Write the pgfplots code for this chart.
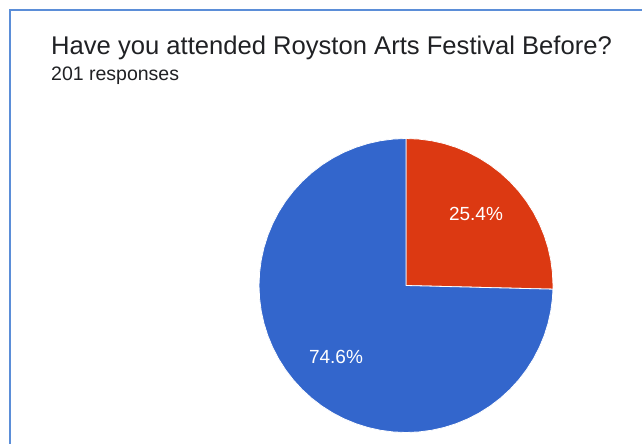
\documentclass[border=0pt]{standalone}
\usepackage{pgfplots}
\pgfplotsset{compat=1.18}
\usepackage{fontspec}
\setmainfont{Liberation Sans}
\definecolor{gblue}{HTML}{3366CC}
\definecolor{gred}{HTML}{DC3912}
\definecolor{frame}{HTML}{5B8ED8}
\definecolor{txt}{HTML}{202124}
\begin{document}
\begin{tikzpicture}
\path[use as bounding box] (0bp,0bp) rectangle (642bp,-444bp);
\fill[white] (0bp,0bp) rectangle (642bp,-444bp);
\draw[frame, line width=2bp] (10bp,-450bp) -- (10bp,-10bp) -- (650bp,-10bp);
\begin{axis}[at={(406bp,-285.5bp)}, anchor=center, scale only axis,
  width=294bp, height=294bp, xmin=-1, xmax=1, ymin=-1, ymax=1,
  hide axis, data cs=polar, clip=false]
% red slice: 25.4% -> 91.44 degrees, from 90 clockwise
\addplot[fill=gred, draw=white, line width=0.8bp] coordinates {
(0,0) (90,1) (85,1) (80,1) (75,1) (70,1) (65,1) (60,1) (55,1) (50,1) (45,1)
(40,1) (35,1) (30,1) (25,1) (20,1) (15,1) (10,1) (5,1) (0,1) (-1.44,1) (0,0)};
% blue slice: 74.6%
\addplot[fill=gblue, draw=white, line width=0.8bp] coordinates {
(0,0) (-1.44,1) (-5,1) (-10,1) (-15,1) (-20,1) (-25,1) (-30,1) (-35,1) (-40,1)
(-45,1) (-50,1) (-55,1) (-60,1) (-65,1) (-70,1) (-75,1) (-80,1) (-85,1) (-90,1)
(-95,1) (-100,1) (-105,1) (-110,1) (-115,1) (-120,1) (-125,1) (-130,1) (-135,1)
(-140,1) (-145,1) (-150,1) (-155,1) (-160,1) (-165,1) (-170,1) (-175,1) (-180,1)
(-185,1) (-190,1) (-195,1) (-200,1) (-205,1) (-210,1) (-215,1) (-220,1) (-225,1)
(-230,1) (-235,1) (-240,1) (-245,1) (-250,1) (-255,1) (-260,1) (-265,1) (-270,1) (0,0)};
\end{axis}
\node[anchor=base west, inner sep=0pt, text=txt, font=\fontsize{25.6bp}{30bp}\selectfont] at (51bp,-54bp) {Have you attended Royston Arts Festival Before?};
\node[anchor=base west, inner sep=0pt, text=txt, font=\fontsize{19.5bp}{23bp}\selectfont] at (51bp,-80bp) {201 responses};
\node[text=white, inner sep=0pt, font=\fontsize{19bp}{22bp}\selectfont] at (476bp,-214bp) {25.4\%};
\node[text=white, inner sep=0pt, font=\fontsize{19bp}{22bp}\selectfont] at (336bp,-357bp) {74.6\%};
\end{tikzpicture}
\end{document}
